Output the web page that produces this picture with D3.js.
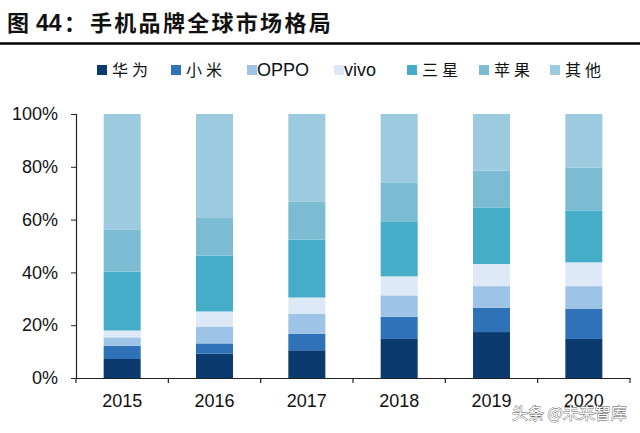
<!DOCTYPE html>
<html><head><meta charset="utf-8">
<script src="https://cdn.jsdelivr.net/npm/d3@7"></script>
<style>body{margin:0;background:#fff}svg{display:block}</style>
</head><body>
<svg id="c" width="640" height="433"></svg>
<script>
const years = ["2015","2016","2017","2018","2019","2020"];
const brands = ["华为","小米","OPPO","vivo","三星","苹果","其他"];
const huawei  = [7.2, 9.2, 10.5, 14.8, 17.4, 14.8];
const xiaomi  = [5.0, 3.9, 6.3, 8.4, 9.2, 11.5];
const oppo    = [3.2, 6.4, 7.6, 8.1, 8.2, 8.5];
const vivo    = [2.6, 5.7, 6.1, 7.2, 8.4, 9.0];
const samsung = [22.3, 21.2, 21.9, 20.6, 21.4, 19.7];
const apple   = [16.0, 14.2, 14.5, 15.0, 13.9, 16.2];
const others  = [43.7, 39.4, 33.1, 25.9, 21.5, 20.3];
const yTicks = [0, 20, 40, 60, 80, 100];
const colors = ["#0b3a6f","#2f72b8","#9dc3e6","#dde9f6","#45adc8","#7cbcd2","#9ccade"];

const seriesVals = [huawei, xiaomi, oppo, vivo, samsung, apple, others];
const table = years.map((y,i)=>{const o={year:y}; brands.forEach((b,j)=>o[b]=seriesVals[j][i]); return o;});
const stack = d3.stack().keys(brands).offset(d3.stackOffsetExpand)(table);

const svg = d3.select("#c");
const xb = d3.scaleBand().domain(years).range([76,630]);
const y = d3.scaleLinear().domain([0,1]).range([378,114]);
const color = d3.scaleOrdinal().domain(brands).range(colors);

// title
const t = svg.append("text").attr("y",31).attr("font-weight","bold").attr("font-size",22).attr("fill","#111");
t.append("tspan").attr("x",7).attr("font-family","'Noto Sans CJK SC'").text("图");
t.append("tspan").attr("x",36).attr("font-family","Liberation Sans, Arial").attr("font-size",23).text("44");
t.append("tspan").attr("x",64).attr("font-family","'Noto Sans CJK SC'").text("：");
t.append("tspan").attr("x",90).attr("font-family","'Noto Sans CJK SC'").attr("letter-spacing",2.3).text("手机品牌全球市场格局");
svg.append("line").attr("x1",0).attr("x2",640).attr("y1",43.5).attr("y2",43.5).attr("stroke","#000").attr("stroke-width",2.5);

// bars
svg.append("g").selectAll("g").data(stack).join("g").attr("fill",d=>color(d.key))
  .selectAll("rect").data(d=>d).join("rect")
  .attr("x",d=>xb(d.data.year)+xb.bandwidth()/2-18.5).attr("width",37)
  .attr("y",d=>y(d[1])).attr("height",d=>y(d[0])-y(d[1]));

// axes
const ya = svg.append("g").attr("transform","translate(76,0)")
  .call(d3.axisLeft(y).tickValues(yTicks.map(v=>v/100)).tickFormat(d=>Math.round(d*100)+"%").tickSize(5).tickPadding(13));
ya.select(".domain").attr("stroke","#222").attr("stroke-width",1.2);
ya.selectAll(".tick line").attr("stroke","#222");
ya.selectAll("text").attr("font-family","Liberation Sans, Arial").attr("font-size",18).attr("fill","#111");

const xa = svg.append("g").attr("transform","translate(0,378)")
  .call(d3.axisBottom(xb).tickSize(0).tickPadding(16));
xa.select(".domain").attr("stroke","#222").attr("stroke-width",1.2);
xa.selectAll("text").attr("font-family","Liberation Sans, Arial").attr("font-size",18).attr("fill","#111");
svg.append("g").selectAll("line").data(years.concat(["end"])).join("line")
  .attr("x1",(d,i)=>76+i*xb.step()).attr("x2",(d,i)=>76+i*xb.step())
  .attr("y1",378).attr("y2",383).attr("stroke","#222").attr("stroke-width",1.2);

// legend
const legX = [97,171,247,334,407,479,550];
const lg = svg.append("g").selectAll("g").data(brands).join("g")
  .attr("transform",(d,i)=>`translate(${legX[i]},65)`);
lg.append("rect").attr("x",0).attr("y",0).attr("width",10).attr("height",10).attr("fill",d=>color(d));
lg.append("text").attr("x",d=>/^[A-Za-z]/.test(d)?10:15).attr("y",11).attr("font-size",d=>/^[A-Za-z]/.test(d)?18:16)
  .attr("font-family",d=>/^[A-Za-z]/.test(d)?"Liberation Sans, Arial":"'Noto Sans CJK SC'")
  .attr("letter-spacing",d=>/^[A-Za-z]/.test(d)?0:4)
  .attr("fill","#111").text(d=>d);

// watermark
svg.append("text").attr("x",512).attr("y",419).attr("font-family","'Noto Sans CJK SC'").attr("font-size",16)
  .attr("fill","#fff").attr("stroke","#555").attr("stroke-width",0.8).attr("paint-order","stroke")
  .text("头条 @未来智库");
</script>
</body></html>
